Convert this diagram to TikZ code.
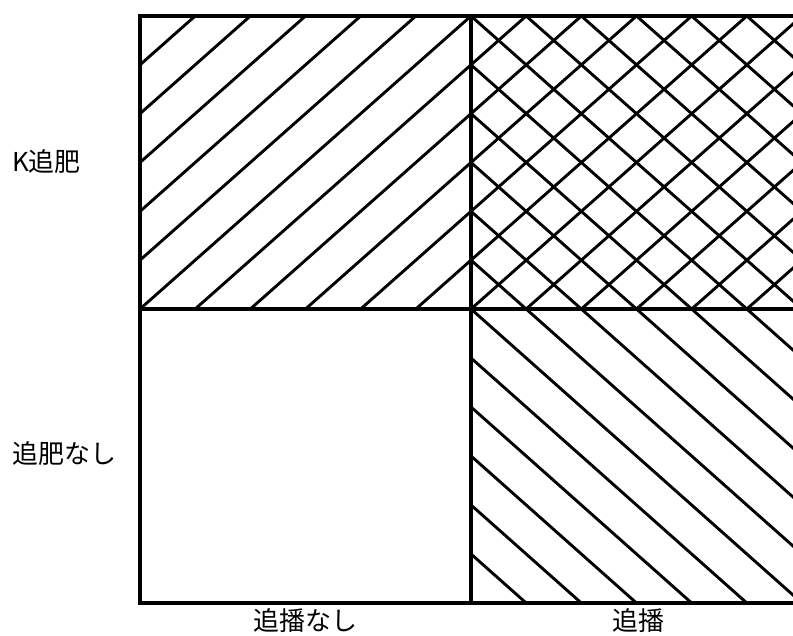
\documentclass[tikz,border=0pt]{standalone}
\usepackage{fontspec}
\setmainfont{Noto Sans CJK JP}
\begin{document}
\begin{tikzpicture}[x=1pt,y=-1pt,
  frame/.style={line width=3.4pt,line cap=rect},
  hatch/.style={line width=2.9pt},
  lab/.style={font=\fontsize{26}{26}\selectfont,inner sep=0pt}]
\useasboundingbox (0,0) rectangle (793,635);
\def\cw{55.1667}
% top-left: "/" hatch
\begin{scope}
  \clip (140,16) rectangle (471,309);
  \foreach \i in {-6,...,6}
    \draw[hatch] ({140+\cw*\i},309) -- ({140+\cw*(\i+6)},16);
\end{scope}
% top-right: cross hatch
\begin{scope}
  \clip (471,16) rectangle (802,309);
  \foreach \i in {-6,...,6}{
    \draw[hatch] ({471+\cw*\i},309) -- ({471+\cw*(\i+6)},16);
    \draw[hatch] ({471+\cw*\i},16) -- ({471+\cw*(\i+6)},309);
  }
\end{scope}
% bottom-right: "\" hatch
\begin{scope}
  \clip (471,309) rectangle (802,603);
  \foreach \i in {-6,...,6}
    \draw[hatch] ({471+\cw*\i},309) -- ({471+\cw*(\i+6)},603);
\end{scope}
% frame
\coordinate (tl) at (140,16);
\coordinate (tm) at (471,16);
\coordinate (tr) at (802,16);
\coordinate (ml) at (140,309);
\coordinate (mr) at (802,309);
\coordinate (bl) at (140,603);
\coordinate (bm) at (471,603);
\coordinate (br) at (802,603);
\draw[frame] (tl) -- (tr);
\draw[frame] (ml) -- (mr);
\draw[frame] (bl) -- (br);
\draw[frame] (tl) -- (bl);
\draw[frame] (tm) -- (bm);
% labels
\node[lab,anchor=west] (rowK) at (12,162) {K追肥};
\node[lab,anchor=west] (rowN) at (12,454) {追肥なし};
\node[lab] (colN) at (305.5,621) {追播なし};
\node[lab] (colY) at (638.5,621) {追播};
\end{tikzpicture}
\end{document}
